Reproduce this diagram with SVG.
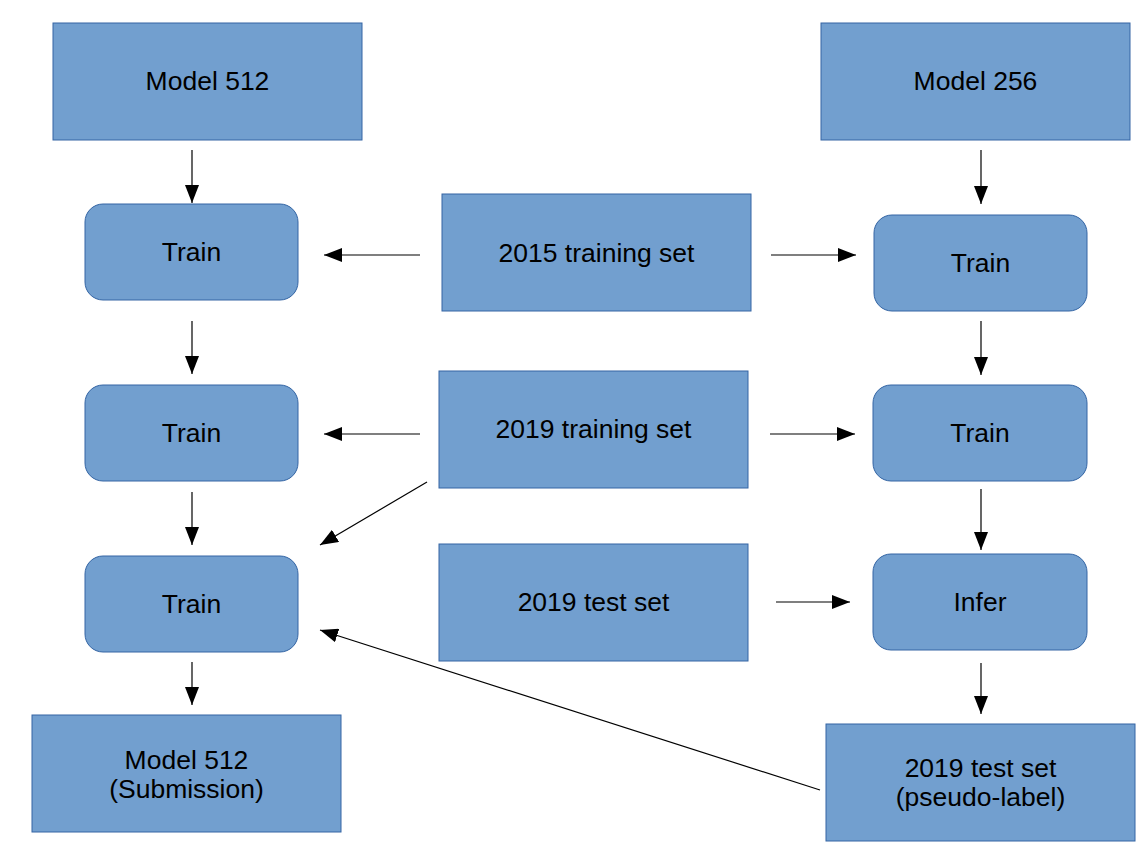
<svg xmlns="http://www.w3.org/2000/svg" width="1148" height="857" viewBox="0 0 1148 857">
<defs>
<marker id="ah" markerUnits="userSpaceOnUse" markerWidth="20" markerHeight="14" refX="18" refY="7" orient="auto"><path d="M0,0 L18,7 L0,14 Z" fill="#000"/></marker>
<style>
.box{fill:#729fcf;stroke:#3465a4;stroke-width:1}
.t{font-family:"Liberation Sans",Arial,sans-serif;font-size:26.5px;fill:#000;text-anchor:middle}
.c line{stroke:#000;stroke-width:1.2;marker-end:url(#ah)}
</style>
</defs>
<rect width="1148" height="857" fill="#fff"/>
<g id="model512"><rect class="box" x="53" y="23" width="309" height="117"/><text class="t" x="207.5" y="90">Model 512</text></g>
<g id="model256"><rect class="box" x="821" y="23" width="309" height="117"/><text class="t" x="975.5" y="90">Model 256</text></g>
<g id="trainL1"><rect class="box" x="85" y="204" width="213" height="96" rx="18"/><text class="t" x="191.5" y="261">Train</text></g>
<g id="trainL2"><rect class="box" x="85" y="385" width="213" height="96" rx="18"/><text class="t" x="191.5" y="442">Train</text></g>
<g id="trainL3"><rect class="box" x="85" y="556" width="213" height="96" rx="18"/><text class="t" x="191.5" y="613">Train</text></g>
<g id="submission"><rect class="box" x="32" y="715" width="309" height="117"/><text class="t" x="186.5" y="769">Model 512</text><text class="t" x="186.5" y="798">(Submission)</text></g>
<g id="train2015"><rect class="box" x="442" y="194" width="309" height="117"/><text class="t" x="596.5" y="262">2015 training set</text></g>
<g id="train2019"><rect class="box" x="439" y="371" width="309" height="117"/><text class="t" x="593.5" y="438">2019 training set</text></g>
<g id="test2019"><rect class="box" x="439" y="544" width="309" height="117"/><text class="t" x="593.5" y="611">2019 test set</text></g>
<g id="trainR1"><rect class="box" x="874" y="215" width="213" height="96" rx="18"/><text class="t" x="980.5" y="272">Train</text></g>
<g id="trainR2"><rect class="box" x="873" y="385" width="214" height="96" rx="18"/><text class="t" x="980" y="442">Train</text></g>
<g id="infer"><rect class="box" x="873" y="554" width="214" height="96" rx="18"/><text class="t" x="980" y="611">Infer</text></g>
<g id="pseudo"><rect class="box" x="826" y="724" width="309" height="117"/><text class="t" x="980.5" y="777">2019 test set</text><text class="t" x="980.5" y="806">(pseudo-label)</text></g>
<g class="c" id="connectors">
<line x1="192" y1="150" x2="192" y2="203"/>
<line x1="192" y1="321" x2="192" y2="374"/>
<line x1="192" y1="492" x2="192" y2="545"/>
<line x1="192" y1="662" x2="192" y2="705"/>
<line x1="420" y1="255" x2="324" y2="255"/>
<line x1="771" y1="255" x2="856" y2="255"/>
<line x1="420" y1="434" x2="324" y2="434"/>
<line x1="770" y1="434" x2="855" y2="434"/>
<line x1="427" y1="482" x2="320" y2="545"/>
<line x1="776" y1="602" x2="850" y2="602"/>
<line x1="981" y1="150" x2="981" y2="204"/>
<line x1="981" y1="321" x2="981" y2="375"/>
<line x1="981" y1="489" x2="981" y2="550"/>
<line x1="981" y1="663" x2="981" y2="714"/>
<line x1="820" y1="790" x2="320" y2="630"/>
</g>
</svg>
